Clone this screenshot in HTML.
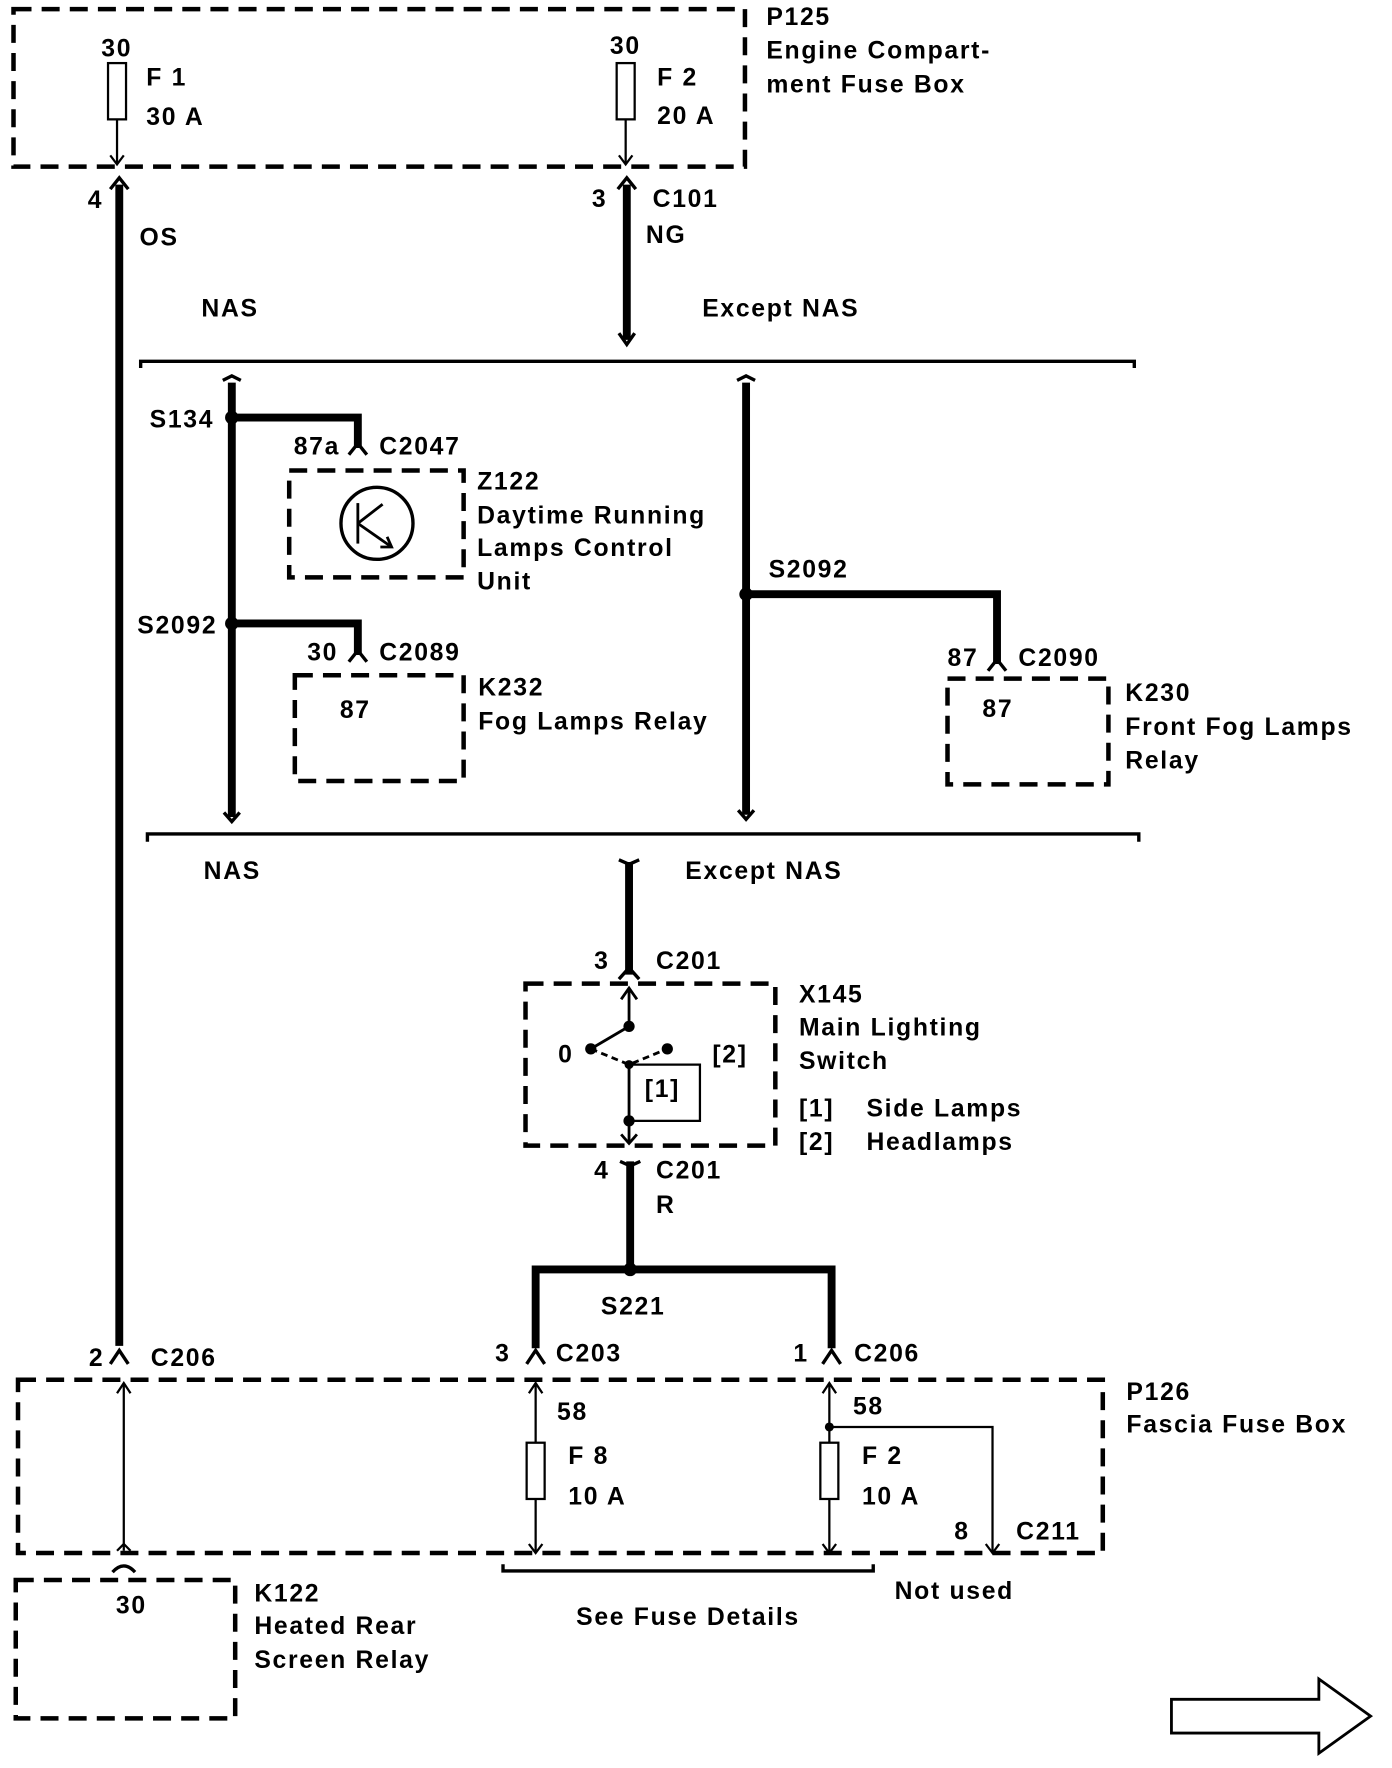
<!DOCTYPE html>
<html><head><meta charset="utf-8"><style>
html,body{margin:0;padding:0;background:#fff}
svg{display:block}
text{font-family:"Liberation Sans",sans-serif;font-weight:bold;font-size:22px;fill:#000;letter-spacing:1.5px}
</style></head><body>
<svg width="1392" height="1768" viewBox="0 0 1237 1571" xmlns="http://www.w3.org/2000/svg">
<g fill="none" stroke="#000" stroke-width="4" stroke-dasharray="16,9">
<rect x="12" y="8" width="650" height="140"/>
<rect x="257" y="418" width="155" height="95"/>
<rect x="262" y="600" width="150" height="94"/>
<rect x="842" y="603" width="143" height="94"/>
<rect x="467" y="874" width="222" height="144"/>
<rect x="16" y="1226" width="964" height="154"/>
<rect x="14" y="1404" width="195" height="123"/>
</g>
<g fill="none" stroke="#000" stroke-width="2">
<rect x="96" y="56" width="16" height="50"/>
<rect x="548" y="56" width="16" height="50"/>
<line x1="104" y1="106" x2="104" y2="146"/><path d="M98,138 L104,146 L110,138"/>
<line x1="556" y1="106" x2="556" y2="146"/><path d="M550,138 L556,146 L562,138"/>
</g>
<g fill="none" stroke="#000" stroke-width="7">
<line x1="106" y1="164" x2="106" y2="1196"/>
<line x1="557" y1="164" x2="557" y2="302"/>
<line x1="206" y1="340" x2="206" y2="726"/>
<line x1="663" y1="340" x2="663" y2="724"/>
<polyline points="206,371 318,371 318,398"/>
<polyline points="206,554 318,554 318,582"/>
<polyline points="663,528 886,528 886,590"/>
<line x1="559" y1="766" x2="559" y2="866"/>
<line x1="560" y1="1032" x2="560" y2="1128"/>
<polyline points="476,1198 476,1128 739,1128 739,1198"/>
</g>
<g fill="none" stroke="#000" stroke-width="3">
<path d="M98,168 L106,158 L114,168"/><path d="M549,168 L557,158 L565,168"/>
<path d="M550,296 L557,306 L564,296"/>
<path d="M125,327 L125,321 L1008,321 L1008,327"/>
<path d="M198,338 L206,334 L214,338"/><path d="M199,722 L206,730 L213,722"/>
<path d="M655,338 L663,334 L671,338"/><path d="M656,720 L663,728 L670,720"/>
<path d="M310,404 L318,394 L326,404"/><path d="M310,588 L318,578 L326,588"/><path d="M878,596 L886,586 L894,596"/>
<path d="M131,748 L131,741 L1012,741 L1012,748"/>
<path d="M550,764 L559,768 L568,764"/><path d="M550,870 L559,860 L568,870"/>
<path d="M551,1032 L560,1036 L569,1032"/>
<path d="M98,1212 L106,1200 L114,1212"/><path d="M468,1212 L476,1200 L484,1212"/><path d="M731,1212 L739,1200 L747,1212"/>
<path d="M447,1390 L447,1396 L776,1396 L776,1390"/>
<path d="M100,1397 Q110,1386 120,1397"/>
</g>
<g fill="#000"><circle cx="206" cy="371" r="6"/><circle cx="206" cy="554" r="6"/><circle cx="663" cy="528" r="6"/><circle cx="560" cy="1128" r="6"/>
<circle cx="559" cy="912" r="5"/><circle cx="525" cy="932" r="5"/><circle cx="593" cy="932" r="5"/><circle cx="559" cy="946" r="4"/><circle cx="559" cy="996" r="5"/><circle cx="737" cy="1268" r="4"/></g>
<g fill="none" stroke="#000" stroke-width="2.5">
<circle cx="335" cy="465" r="32" stroke-width="3"/>
<line x1="318" y1="447" x2="318" y2="483"/><line x1="318" y1="465" x2="340" y2="448"/><line x1="318" y1="465" x2="348" y2="486"/><path d="M338,486 L348,486 L344,477"/>
<line x1="559" y1="880" x2="559" y2="912"/><path d="M552,888 L559,878 L566,888"/>
<line x1="559" y1="912" x2="525" y2="932"/>
<path d="M525,932 L559,946 L593,932" stroke-dasharray="6,4"/>
<polyline points="559,946 559,1016"/><path d="M552,1008 L559,1016 L566,1008"/>
<polyline points="559,946 622,946 622,996 559,996" stroke-width="2"/>
</g>
<g fill="none" stroke="#000" stroke-width="2">
<line x1="110" y1="1230" x2="110" y2="1378"/><path d="M104,1238 L110,1229 L116,1238"/><path d="M104,1378 L110,1372 L116,1378"/>
<line x1="476" y1="1230" x2="476" y2="1380"/><path d="M470,1238 L476,1229 L482,1238"/><path d="M470,1372 L476,1380 L482,1372"/>
<rect x="468" y="1282" width="16" height="50" fill="#fff"/>
<line x1="737" y1="1230" x2="737" y2="1380"/><path d="M731,1238 L737,1229 L743,1238"/><path d="M731,1372 L737,1380 L743,1372"/>
<rect x="729" y="1282" width="16" height="50" fill="#fff"/>
<polyline points="737,1268 882,1268 882,1380"/><path d="M876,1372 L882,1380 L888,1372"/>
<polygon points="1041,1510 1172,1510 1172,1492 1218,1525 1172,1558 1172,1540 1041,1540" stroke-width="2.5"/>
</g>
<text x="90" y="50">30</text><text x="130" y="76">F 1</text><text x="130" y="111">30 A</text>
<text x="542" y="48">30</text><text x="584" y="76">F 2</text><text x="584" y="110">20 A</text>
<text x="681" y="22">P125</text><text x="681" y="52">Engine Compart-</text><text x="681" y="82">ment Fuse Box</text>
<text x="78" y="185">4</text><text x="124" y="218">OS</text>
<text x="526" y="184">3</text><text x="580" y="184">C101</text><text x="574" y="216">NG</text>
<text x="179" y="281">NAS</text><text x="624" y="281">Except NAS</text>
<text x="133" y="380">S134</text><text x="261" y="404">87a</text><text x="337" y="404">C2047</text>
<text x="424" y="435">Z122</text><text x="424" y="465">Daytime Running</text><text x="424" y="494">Lamps Control</text><text x="424" y="524">Unit</text>
<text x="122" y="563">S2092</text><text x="273" y="587">30</text><text x="337" y="587">C2089</text>
<text x="302" y="638">87</text><text x="425" y="618">K232</text><text x="425" y="648">Fog Lamps Relay</text>
<text x="683" y="513">S2092</text><text x="842" y="592">87</text><text x="905" y="592">C2090</text><text x="873" y="637">87</text>
<text x="1000" y="623">K230</text><text x="1000" y="653">Front Fog Lamps</text><text x="1000" y="683">Relay</text>
<text x="181" y="781">NAS</text><text x="609" y="781">Except NAS</text>
<text x="528" y="861">3</text><text x="583" y="861">C201</text>
<text x="496" y="944">0</text><text x="633" y="944">[2]</text><text x="573" y="975">[1]</text>
<text x="710" y="891">X145</text><text x="710" y="920">Main Lighting</text><text x="710" y="950">Switch</text>
<text x="710" y="992">[1]</text><text x="770" y="992">Side Lamps</text><text x="710" y="1022">[2]</text><text x="770" y="1022">Headlamps</text>
<text x="528" y="1047">4</text><text x="583" y="1047">C201</text><text x="583" y="1078">R</text>
<text x="534" y="1168">S221</text>
<text x="79" y="1214">2</text><text x="134" y="1214">C206</text><text x="440" y="1210">3</text><text x="494" y="1210">C203</text><text x="705" y="1210">1</text><text x="759" y="1210">C206</text>
<text x="1001" y="1244">P126</text><text x="1001" y="1273">Fascia Fuse Box</text>
<text x="495" y="1262">58</text><text x="505" y="1301">F 8</text><text x="505" y="1337">10 A</text>
<text x="758" y="1257">58</text><text x="766" y="1301">F 2</text><text x="766" y="1337">10 A</text>
<text x="848" y="1368">8</text><text x="903" y="1368">C211</text>
<text x="512" y="1444">See Fuse Details</text><text x="795" y="1421">Not used</text>
<text x="103" y="1434">30</text><text x="226" y="1423">K122</text><text x="226" y="1452">Heated Rear</text><text x="226" y="1482">Screen Relay</text>
</svg>
</body></html>
